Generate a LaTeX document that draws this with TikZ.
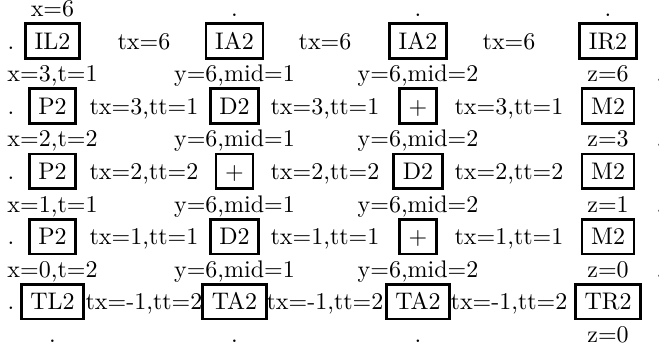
\documentclass[tikz,border=0pt]{standalone}
\begin{document}
\begin{tikzpicture}[x=0.416667pt, y=-0.416667pt,
  lbl/.style={inner sep=0pt, anchor=base},
  opbox/.style={draw, line width=1.1pt, inner sep=3.8pt, anchor=base, text height=6.83pt, text depth=0pt}]
\useasboundingbox (0,0) rectangle (659,349);
% row 0
\node[lbl] (t0) at (52.5,16.5) {x=6};
\node[lbl] (t1) at (234.5,16.5) {.};
\node[lbl] (t2) at (418,16.5) {.};
\node[lbl] (t3) at (608,16.5) {.};
% row 1
\node[lbl] (d1) at (11,49.1) {.};
\node[opbox] (a1) at (52.5,49.1) {IL2};
\node[lbl] (b1) at (144,49.1) {tx=6};
\node[opbox] (c1) at (234.5,49.1) {IA2};
\node[lbl] (e1) at (325,49.1) {tx=6};
\node[opbox] (f1) at (418,49.1) {IA2};
\node[lbl] (g1) at (509,49.1) {tx=6};
\node[opbox] (h1) at (608,49.1) {IR2};
% row 2
\node[lbl] (a2) at (52.5,81.7) {x=3,t=1};
\node[lbl] (c2) at (234.5,81.7) {y=6,mid=1};
\node[lbl] (f2) at (418,81.7) {y=6,mid=2};
\node[lbl] (h2) at (608,81.7) {z=6};
\node[lbl] (r2) at (659.6,81.7) {.};
% row 3
\node[lbl] (d3) at (11,114.3) {.};
\node[opbox] (a3) at (52.5,114.3) {P2};
\node[lbl] (b3) at (144,114.3) {tx=3,tt=1};
\node[opbox] (c3) at (234.5,114.3) {D2};
\node[lbl] (e3) at (325,114.3) {tx=3,tt=1};
\node[opbox] (f3) at (418,114.3) {+};
\node[lbl] (g3) at (509,114.3) {tx=3,tt=1};
\node[opbox] (h3) at (608,114.3) {M2};
% row 4
\node[lbl] (a4) at (52.5,146.9) {x=2,t=2};
\node[lbl] (c4) at (234.5,146.9) {y=6,mid=1};
\node[lbl] (f4) at (418,146.9) {y=6,mid=2};
\node[lbl] (h4) at (608,146.9) {z=3};
\node[lbl] (r4) at (659.6,146.9) {.};
% row 5
\node[lbl] (d5) at (11,179.5) {.};
\node[opbox] (a5) at (52.5,179.5) {P2};
\node[lbl] (b5) at (144,179.5) {tx=2,tt=2};
\node[opbox] (c5) at (234.5,179.5) {+};
\node[lbl] (e5) at (325,179.5) {tx=2,tt=2};
\node[opbox] (f5) at (418,179.5) {D2};
\node[lbl] (g5) at (509,179.5) {tx=2,tt=2};
\node[opbox] (h5) at (608,179.5) {M2};
% row 6
\node[lbl] (a6) at (52.5,212.1) {x=1,t=1};
\node[lbl] (c6) at (234.5,212.1) {y=6,mid=1};
\node[lbl] (f6) at (418,212.1) {y=6,mid=2};
\node[lbl] (h6) at (608,212.1) {z=1};
\node[lbl] (r6) at (659.6,212.1) {.};
% row 7
\node[lbl] (d7) at (11,244.7) {.};
\node[opbox] (a7) at (52.5,244.7) {P2};
\node[lbl] (b7) at (144,244.7) {tx=1,tt=1};
\node[opbox] (c7) at (234.5,244.7) {D2};
\node[lbl] (e7) at (325,244.7) {tx=1,tt=1};
\node[opbox] (f7) at (418,244.7) {+};
\node[lbl] (g7) at (509,244.7) {tx=1,tt=1};
\node[opbox] (h7) at (608,244.7) {M2};
% row 8
\node[lbl] (a8) at (52.5,277.3) {x=0,t=2};
\node[lbl] (c8) at (234.5,277.3) {y=6,mid=1};
\node[lbl] (f8) at (418,277.3) {y=6,mid=2};
\node[lbl] (h8) at (608,277.3) {z=0};
\node[lbl] (r8) at (659.6,277.3) {.};
% row 9
\node[lbl] (d9) at (11,309.9) {.};
\node[opbox] (a9) at (52.5,309.9) {TL2};
\node[lbl] (b9) at (144,309.9) {tx=-1,tt=2};
\node[opbox] (c9) at (234.5,309.9) {TA2};
\node[lbl] (e9) at (325,309.9) {tx=-1,tt=2};
\node[opbox] (f9) at (418,309.9) {TA2};
\node[lbl] (g9) at (509,309.9) {tx=-1,tt=2};
\node[opbox] (h9) at (608,309.9) {TR2};
% row 10
\node[lbl] (a10) at (52.5,342.5) {.};
\node[lbl] (c10) at (234.5,342.5) {.};
\node[lbl] (f10) at (418,342.5) {.};
\node[lbl] (h10) at (608,342.5) {z=0};
\end{tikzpicture}
\end{document}
